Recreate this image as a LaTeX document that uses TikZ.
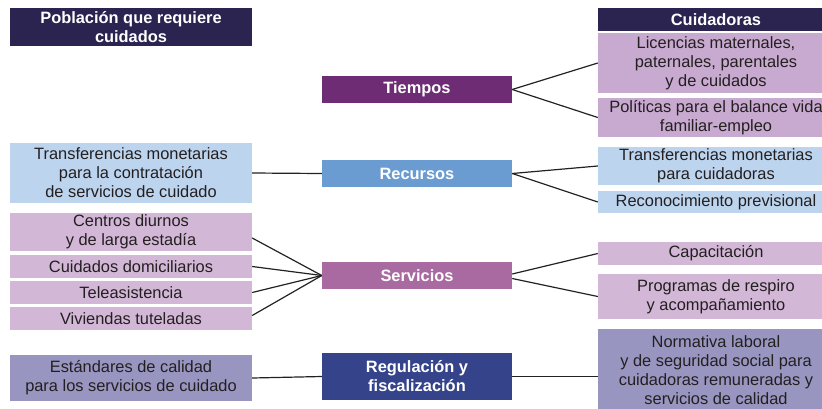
\documentclass[tikz,border=0pt]{standalone}
\usepackage{fontspec}
\setmainfont{Liberation Sans}

\definecolor{navy}{HTML}{2B2350}
\definecolor{tiempo}{HTML}{6D2C73}
\definecolor{recurso}{HTML}{6A9CD2}
\definecolor{servicio}{HTML}{A86AA0}
\definecolor{regula}{HTML}{35448A}
\definecolor{blueb}{HTML}{BCD4EE}
\definecolor{pinkb}{HTML}{D3B7D7}
\definecolor{pinkt}{HTML}{C8AAD0}
\definecolor{violb}{HTML}{9896C1}
\definecolor{txt}{HTML}{231F20}
\definecolor{lnk}{HTML}{222222}

\tikzset{
  every node/.style={inner sep=0pt, align=center, font=\fontsize{16.4}{19}\selectfont},
  leftbox/.style={minimum width=242pt, text=txt},
  midbox/.style={minimum width=190pt, text=white, font=\fontsize{16.4}{19}\selectfont\bfseries},
  rightbox/.style={minimum width=236pt, text=txt},
  headbox/.style={fill=navy, text=white, font=\fontsize{16.4}{19}\selectfont\bfseries},
  link/.style={draw=lnk, line width=1.2pt}
}

\begin{document}
\begin{tikzpicture}[x=1pt,y=-1pt]
\useasboundingbox (0,0) rectangle (822,408);
\clip (0,0) rectangle (822,408);

% left column
\node[leftbox,headbox,minimum height=38pt] (hpob) at (131,27) {Población que requiere\\cuidados};
\node[leftbox,fill=blueb,minimum height=60pt] (tmc) at (131,173) {Transferencias monetarias\\para la contratación\\de servicios de cuidado};
\node[leftbox,fill=pinkb,minimum height=38pt] (cen) at (131,232) {Centros diurnos\\y de larga estadía};
\node[leftbox,fill=pinkb,minimum height=23pt] (cui) at (131,266.5) {Cuidados domiciliarios};
\node[leftbox,fill=pinkb,minimum height=23pt] (tel) at (131,292.5) {Teleasistencia};
\node[leftbox,fill=pinkb,minimum height=23pt] (viv) at (131,318.5) {Viviendas tuteladas};
\node[leftbox,fill=violb,minimum height=46pt] (est) at (131,378) {Estándares de calidad\\para los servicios de cuidado};

% middle column
\node[midbox,fill=tiempo,minimum height=27pt] (tie) at (417,89.5) {Tiempos};
\node[midbox,fill=recurso,minimum height=27pt] (rec) at (417,173.5) {Recursos};
\node[midbox,fill=servicio,minimum height=27pt] (ser) at (417,275.5) {Servicios};
\node[midbox,fill=regula,minimum height=47pt] (reg) at (417,376.5) {Regulación y\\fiscalización};

% right column
\node[rightbox,headbox,minimum height=23pt] (hcui) at (716,19.5) {Cuidadoras};
\node[rightbox,fill=pinkt,minimum height=60pt] (lic) at (716,63) {Licencias maternales,\\paternales, parentales\\y de cuidados};
\node[rightbox,fill=pinkt,minimum height=39pt] (pol) at (716,117.5) {Políticas para el balance vida\\familiar-empleo};
\node[rightbox,fill=blueb,minimum height=38pt] (tcu) at (716,166) {Transferencias monetarias\\para cuidadoras};
\node[rightbox,fill=blueb,minimum height=22pt] (rpr) at (716,202) {Reconocimiento previsional};
\node[rightbox,fill=pinkb,minimum height=23pt] (cap) at (716,253.5) {Capacitación};
\node[rightbox,fill=pinkb,minimum height=45pt] (pro) at (716,296.5) {Programas de respiro\\y acompañamiento};
\node[rightbox,fill=violb,minimum height=83pt] (nor) at (716,370.5) {Normativa laboral\\y de seguridad social para\\cuidadoras remuneradas y\\servicios de calidad};

% links
\draw[link] (tie.east) -- (lic.west);
\draw[link] (tie.east) -- (pol.west);
\draw[link] (tmc.east) -- (rec.west);
\draw[link] (rec.east) -- (tcu.west);
\draw[link] (rec.east) -- (rpr.west);
\draw[link] ([yshift=-6pt]cen.east) -- (ser.west);
\draw[link] (cui.east) -- (ser.west);
\draw[link] (tel.east) -- (ser.west);
\draw[link] ([yshift=3pt]viv.east) -- (ser.west);
\draw[link] ([yshift=1.5pt]ser.east) -- (cap.west);
\draw[link] ([yshift=-3pt]ser.east) -- (pro.west);
\draw[link] (est.east) -- (reg.west);
\draw[link] (reg.east) -- (reg.east -| nor.west);
\end{tikzpicture}
\end{document}
